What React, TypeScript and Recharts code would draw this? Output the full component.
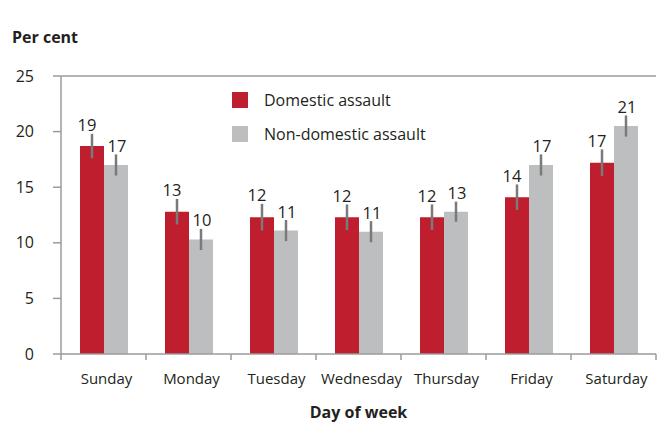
import React from "react";
import {
  BarChart,
  Bar,
  XAxis,
  YAxis,
  ErrorBar,
  LabelList,
  ReferenceLine,
} from "recharts";

const days = ["Sunday", "Monday", "Tuesday", "Wednesday", "Thursday", "Friday", "Saturday"];
const domestic = [18.7, 12.8, 12.3, 12.3, 12.3, 14.1, 17.2];
const nonDomestic = [17.0, 10.3, 11.1, 11.0, 12.8, 17.0, 20.5];
const domesticLabels = [19, 13, 12, 12, 12, 14, 17];
const nonDomesticLabels = [17, 10, 11, 11, 13, 17, 21];
const domesticErr = [1.1, 1.15, 1.2, 1.15, 1.15, 1.15, 1.2];
const nonDomesticErr = [0.95, 0.95, 0.95, 0.95, 0.9, 0.95, 0.95];
const yTicks = [0, 5, 10, 15, 20, 25];
const seriesNames = ["Domestic assault", "Non-domestic assault"];

const data = days.map((d, i) => ({
  day: d,
  domestic: domestic[i],
  nonDomestic: nonDomestic[i],
  domesticErr: domesticErr[i],
  nonDomesticErr: nonDomesticErr[i],
}));

const FONT = "'Open Sans', sans-serif";
const RED = "#BE1E2D";
const GREY = "#BCBEC0";
const AXIS = "#9b9b9b";
const TEXT = "#231F20";

// x ticks sit on the category boundaries, labels in the middle
const DayTick = (props: any) => {
  const { x, y, payload, index } = props;
  const off = payload?.offset ?? 42.5;
  return (
    <g>
      <line x1={x - off} x2={x - off} y1={y} y2={y + 6} stroke={AXIS} strokeWidth={1.5} />
      {index === days.length - 1 && (
        <line x1={x + off} x2={x + off} y1={y} y2={y + 6} stroke={AXIS} strokeWidth={1.5} />
      )}
      <text x={x + 3} y={y + 30} textAnchor="middle" fontSize={15} fontFamily={FONT} fill={TEXT}>
        {payload.value}
      </text>
    </g>
  );
};

const makeLabel = (labels: number[], errs: number[], dx: number) => (props: any) => {
  const { x, y, width, height, index, value } = props;
  const pxPerUnit = value ? height / value : 0;
  const top = y - errs[index] * pxPerUnit;
  return (
    <text
      x={x + width / 2 + dx}
      y={top - 2.5}
      textAnchor="middle"
      fontSize={16.5}
      fontFamily={FONT}
      fill={TEXT}
    >
      {labels[index]}
    </text>
  );
};

const LegendBox = () => (
  <div
    style={{
      position: "absolute",
      left: 232,
      top: 83,
      fontFamily: FONT,
      fontSize: 16,
      color: TEXT,
    }}
  >
    {[RED, GREY].map((c, i) => (
      <div key={i} style={{ display: "flex", alignItems: "center", height: 34 }}>
        <span style={{ width: 16, height: 16, background: c, marginRight: 16 }} />
        <span>{seriesNames[i]}</span>
      </div>
    ))}
  </div>
);

export default function App() {
  return (
    <div style={{ position: "absolute", left: 0, top: 0, width: 672, height: 423, background: "#fff" }}>
      <BarChart
        width={672}
        height={423}
        data={data}
        margin={{ top: 76, right: 16, left: 0, bottom: 0 }}
        barGap={0}
        barCategoryGap={18.5}
      >
        <XAxis
          dataKey="day"
          height={69}
          axisLine={{ stroke: AXIS, strokeWidth: 1.5 }}
          tickLine={false}
          tickSize={0}
          tickMargin={0}
          tick={<DayTick />}
          interval={0}
          label={{
            value: "Day of week",
            position: "insideBottom",
            offset: 5,
            style: { fontFamily: FONT, fontWeight: 700, fontSize: 16, fill: TEXT },
          }}
        />
        <YAxis
          width={61}
          domain={[0, 25]}
          ticks={yTicks}
          interval={0}
          axisLine={{ stroke: AXIS, strokeWidth: 1.5 }}
          tickLine={{ stroke: AXIS, strokeWidth: 1.5 }}
          tickSize={8}
          tickMargin={19}
          tick={{ fontFamily: FONT, fontSize: 16, fill: TEXT }}
        />
        <YAxis
          yAxisId="right"
          orientation="right"
          width={0}
          tick={false}
          tickLine={false}
          axisLine={{ stroke: AXIS, strokeWidth: 1.5 }}
        />
        <ReferenceLine y={25} stroke={AXIS} strokeWidth={1.5} />
        <Bar dataKey="domestic" fill={RED} barSize={24} isAnimationActive={false}>
          <ErrorBar dataKey="domesticErr" width={0} stroke="#7a7a7a" strokeWidth={2.5} direction="y" />
          <LabelList dataKey="domestic" content={makeLabel(domesticLabels, domesticErr, -5)} />
        </Bar>
        <Bar dataKey="nonDomestic" fill={GREY} barSize={24} isAnimationActive={false}>
          <ErrorBar dataKey="nonDomesticErr" width={0} stroke="#7a7a7a" strokeWidth={2.5} direction="y" />
          <LabelList dataKey="nonDomestic" content={makeLabel(nonDomesticLabels, nonDomesticErr, 1)} />
        </Bar>
      </BarChart>
      <LegendBox />
      <div
        style={{
          position: "absolute",
          left: 12,
          top: 26,
          fontFamily: FONT,
          fontWeight: 700,
          fontSize: 16,
          color: TEXT,
        }}
      >
        Per cent
      </div>
    </div>
  );
}
